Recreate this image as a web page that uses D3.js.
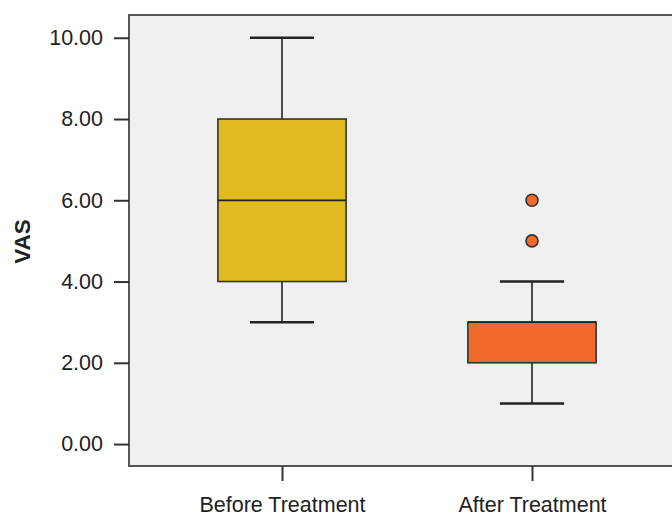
<!DOCTYPE html>
<html>
  <head>
    <meta charset="utf-8">
    <script src="https://d3js.org/d3.v7.min.js"></script>
    <style>
      body { margin: 0; background: #ffffff; }
      svg { display: block; }
      text { font-family: "Liberation Sans", Arial, sans-serif; fill: #222; }
    </style>
  </head>
  <body>
    <div class="visual"></div>
    <script>
      // box plot values
      let categories = ['Before Treatment', 'After Treatment'];
      let mins = [3, 1];
      let q1s = [4, 2];
      let medians = [6, 3];
      let q3s = [8, 3];
      let maxs = [10, 4];
      let outliers = [[], [5, 6]];
      let yTicks = [0, 2, 4, 6, 8, 10];
      let colors = ['#e0bb20', '#f2692c'];

      let width = 672;
      let height = 515;
      let plotLeft = 129, plotTop = 15, plotBottom = 466, plotRight = 685;

      let svg = d3.select('.visual').append('svg')
        .attr('width', width)
        .attr('height', height);

      let y = d3.scaleLinear()
        .domain([-0.54, 10.56])
        .range([plotBottom, plotTop]);

      let x = d3.scalePoint()
        .domain(categories)
        .range([plotLeft, plotRight])
        .padding(0.612);

      let boxW = x.step() * 0.513;
      let capW = boxW / 2;

      // plot frame
      svg.append('rect')
        .attr('x', plotLeft)
        .attr('y', plotTop)
        .attr('width', plotRight - plotLeft + 20)
        .attr('height', plotBottom - plotTop)
        .attr('fill', '#f0f0f0')
        .attr('stroke', '#555')
        .attr('stroke-width', 2);

      // y axis
      let yAxis = svg.append('g')
        .attr('transform', 'translate(' + plotLeft + ',0)')
        .call(d3.axisLeft(y).tickValues(yTicks).tickFormat(d3.format('.2f')).tickSize(15).tickPadding(11));
      yAxis.select('.domain').remove();
      yAxis.selectAll('line').attr('stroke', '#333').attr('stroke-width', 2);
      yAxis.selectAll('text').attr('font-size', 21.5).attr('fill', '#222')
        .attr('font-family', '"Liberation Sans", Arial, sans-serif');

      // x axis
      let xAxis = svg.append('g')
        .attr('transform', 'translate(0,' + plotBottom + ')')
        .call(d3.axisBottom(x).tickSize(15).tickPadding(16));
      xAxis.select('.domain').remove();
      xAxis.selectAll('line').attr('stroke', '#333').attr('stroke-width', 2);
      xAxis.selectAll('text').attr('font-size', 21.5).attr('fill', '#222')
        .attr('font-family', '"Liberation Sans", Arial, sans-serif');

      svg.append('text')
        .attr('transform', 'translate(30,241.5) rotate(-90)')
        .attr('text-anchor', 'middle')
        .attr('font-size', 22.5)
        .attr('font-weight', 'bold')
        .attr('fill', '#111')
        .text('VAS');

      let boxes = svg.selectAll('.box')
        .data(categories)
        .enter().append('g')
        .attr('class', 'box');

      // whiskers
      boxes.append('line')
        .attr('x1', d => x(d)).attr('x2', d => x(d))
        .attr('y1', (d, i) => y(maxs[i])).attr('y2', (d, i) => y(q3s[i]))
        .attr('stroke', '#222').attr('stroke-width', 1.6);
      boxes.append('line')
        .attr('x1', d => x(d)).attr('x2', d => x(d))
        .attr('y1', (d, i) => y(q1s[i])).attr('y2', (d, i) => y(mins[i]))
        .attr('stroke', '#222').attr('stroke-width', 1.6);
      boxes.append('line')
        .attr('x1', d => x(d) - capW / 2).attr('x2', d => x(d) + capW / 2)
        .attr('y1', (d, i) => y(maxs[i])).attr('y2', (d, i) => y(maxs[i]))
        .attr('stroke', '#222').attr('stroke-width', 2.5);
      boxes.append('line')
        .attr('x1', d => x(d) - capW / 2).attr('x2', d => x(d) + capW / 2)
        .attr('y1', (d, i) => y(mins[i])).attr('y2', (d, i) => y(mins[i]))
        .attr('stroke', '#222').attr('stroke-width', 2.5);

      // boxes
      boxes.append('rect')
        .attr('x', d => x(d) - boxW / 2)
        .attr('width', boxW)
        .attr('y', (d, i) => y(q3s[i]))
        .attr('height', (d, i) => y(q1s[i]) - y(q3s[i]))
        .attr('fill', (d, i) => colors[i])
        .attr('stroke', '#333')
        .attr('stroke-width', 1.6);

      // medians
      boxes.append('line')
        .attr('x1', d => x(d) - boxW / 2).attr('x2', d => x(d) + boxW / 2)
        .attr('y1', (d, i) => y(medians[i])).attr('y2', (d, i) => y(medians[i]))
        .attr('stroke', '#222').attr('stroke-width', 1.8);

      // outliers
      boxes.each(function(d, i) {
        d3.select(this).selectAll('circle')
          .data(outliers[i])
          .enter().append('circle')
          .attr('cx', x(d))
          .attr('cy', v => y(v))
          .attr('r', 6)
          .attr('fill', colors[i])
          .attr('stroke', '#333')
          .attr('stroke-width', 1.6);
      });
    </script>
  </body>
</html>
